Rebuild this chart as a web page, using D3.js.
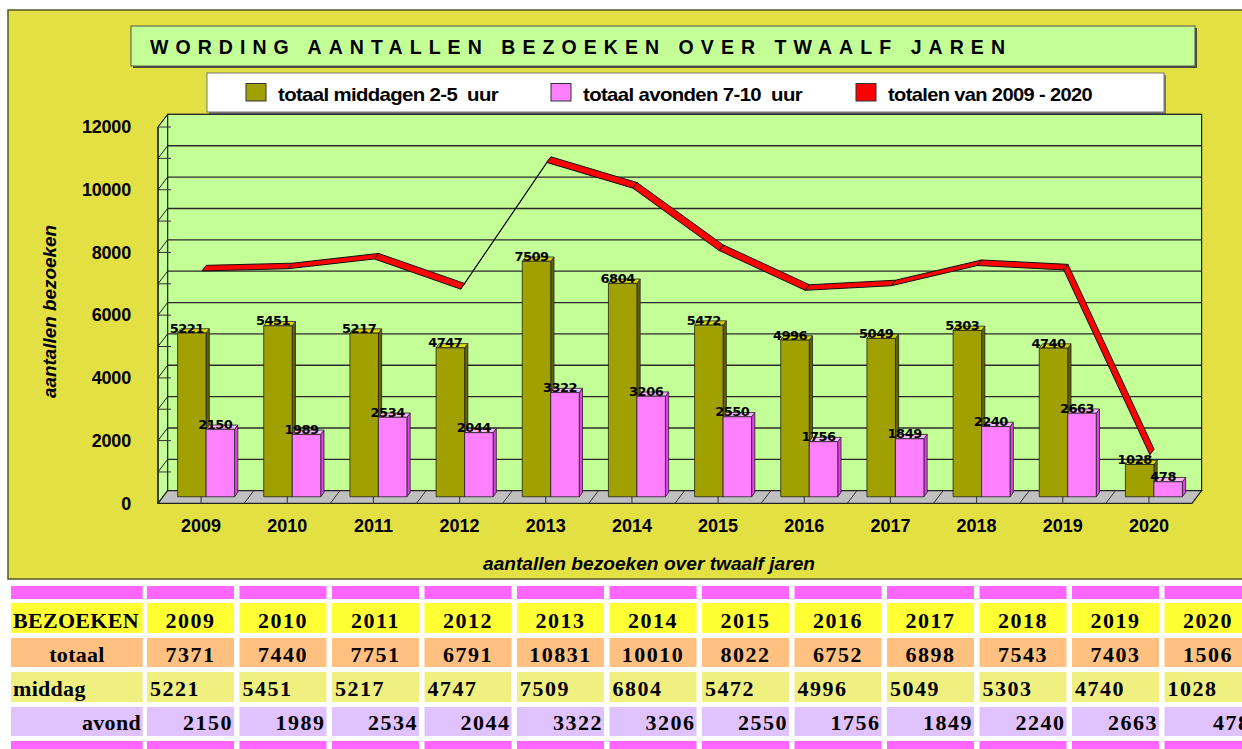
<!DOCTYPE html>
<html>
<head>
<meta charset="utf-8">
<script src="https://cdn.jsdelivr.net/npm/d3@7"></script>
<style>
  body { margin: 0; background: #fff; }
  svg { display: block; }
  .ylab text, .xlab text { font-family: "Liberation Sans", Arial, sans-serif; font-weight: bold; fill: #000; }
  .tbl text { font-family: "Liberation Serif", "DejaVu Serif", serif; font-weight: bold; font-size: 22px; letter-spacing: 1.5px; fill: #000; }
  .tbl text.rowname { letter-spacing: 0.3px; }
</style>
</head>
<body>
<div id="chart"></div>
<script>
// data
var years = ["2009", "2010", "2011", "2012", "2013", "2014", "2015", "2016", "2017", "2018", "2019", "2020"];
var middag = [5221, 5451, 5217, 4747, 7509, 6804, 5472, 4996, 5049, 5303, 4740, 1028];
var avond = [2150, 1989, 2534, 2044, 3322, 3206, 2550, 1756, 1849, 2240, 2663, 478];
var totaal = [7371, 7440, 7751, 6791, 10831, 10010, 8022, 6752, 6898, 7543, 7403, 1506];
var yTicks = [0, 2000, 4000, 6000, 8000, 10000, 12000];
var legendNames = ["totaal middagen 2-5  uur", "totaal avonden 7-10  uur", "totalen van 2009 - 2020"];
var rowNames = ["BEZOEKEN", "totaal", "middag", "avond"];
var chartTitle = "WORDING AANTALLEN BEZOEKEN OVER TWAALF JAREN";
var xTitle = "aantallen bezoeken over twaalf jaren";
var yTitle = "aantallen bezoeken";

var W = 1242, H = 749;
var yellow = "#E2E042", green = "#C4FE96";
var DX = 9.6, DY = 12.6;   // depth offset of the 3d box

var svg = d3.select("#chart").append("svg")
    .attr("width", W)
    .attr("height", H);

// outer chart panel
svg.append("rect")
    .attr("x", 8).attr("y", 10).attr("width", 1260).attr("height", 569)
    .attr("fill", yellow).attr("stroke", "#55552a").attr("stroke-width", 1.5);

// title box
svg.append("rect")
    .attr("x", 133).attr("y", 28).attr("width", 1064).attr("height", 40)
    .attr("fill", "#4a4a3a");
svg.append("rect")
    .attr("x", 131).attr("y", 26).attr("width", 1064).attr("height", 40)
    .attr("fill", green).attr("stroke", "#555").attr("stroke-width", 1);
svg.append("text")
    .attr("x", 150).attr("y", 53.5)
    .attr("textLength", 855).attr("lengthAdjust", "spacing")
    .style("font-family", "Liberation Sans, Arial, sans-serif")
    .style("font-weight", "bold").style("font-size", "19.5px")
    .text(chartTitle);

// legend
svg.append("rect")
    .attr("x", 209).attr("y", 75).attr("width", 957).attr("height", 39)
    .attr("fill", "#777");
svg.append("rect")
    .attr("x", 207).attr("y", 73).attr("width", 957).attr("height", 39)
    .attr("fill", "#fff").attr("stroke", "#777").attr("stroke-width", 1);
var legX = [246, 551, 856], legTextX = [278, 583, 888], legW = [220, 219, 204];
var legCol = ["#A0A000", "#FF80FF", "#FF0000"];
legendNames.forEach(function(name, i) {
    svg.append("rect")
        .attr("x", legX[i]).attr("y", 83.5).attr("width", 20).attr("height", 17.5)
        .attr("fill", legCol[i]).attr("stroke", "#333").attr("stroke-width", 1);
    svg.append("text")
        .attr("x", legTextX[i]).attr("y", 101)
        .attr("textLength", legW[i]).attr("lengthAdjust", "spacingAndGlyphs")
        .style("white-space", "pre")
        .style("font-family", "Liberation Sans, Arial, sans-serif")
        .style("font-weight", "bold").style("font-size", "19px")
        .style("letter-spacing", "-0.6px")
        .text(name);
});

// scales (front plane of the 3d box)
var x = d3.scaleBand().domain(years).range([158, 1192]);
var y = d3.scaleLinear().domain([0, 12000]).range([503.3, 127]);

function P(px, v, z) { return [px + z * DX, y(v) - z * DY]; }
function poly(pts) { return pts.map(function(p) { return p[0].toFixed(2) + "," + p[1].toFixed(2); }).join(" "); }

var x0 = x.range()[0], x1 = x.range()[1];
var gridVals = d3.range(0, 12001, 1000);

// back wall
var bw = svg.append("g");
bw.append("rect")
    .attr("x", x0 + DX).attr("y", y(12000) - DY)
    .attr("width", x1 - x0).attr("height", y(0) - y(12000))
    .attr("fill", green).attr("stroke", "#222").attr("stroke-width", 1.2);
bw.selectAll("line.grid").data(gridVals).enter().append("line")
    .attr("class", "grid")
    .attr("x1", x0 + DX).attr("x2", x1 + DX)
    .attr("y1", function(d) { return y(d) - DY; })
    .attr("y2", function(d) { return y(d) - DY; })
    .attr("stroke", "#2a2a2a").attr("stroke-width", 1.3);

// left wall
svg.append("polygon")
    .attr("points", poly([P(x0, 0, 0), P(x0, 12000, 0), P(x0, 12000, 1), P(x0, 0, 1)]))
    .attr("fill", green).attr("stroke", "#222").attr("stroke-width", 1);
svg.selectAll("line.lw").data(gridVals).enter().append("line")
    .attr("class", "lw")
    .attr("x1", x0).attr("y1", function(d) { return y(d); })
    .attr("x2", x0 + DX).attr("y2", function(d) { return y(d) - DY; })
    .attr("stroke", "#222").attr("stroke-width", 1);
svg.selectAll("line.tk").data(gridVals).enter().append("line")
    .attr("class", "tk")
    .attr("x1", x0).attr("x2", x0 + 13)
    .attr("y1", function(d) { return y(d); }).attr("y2", function(d) { return y(d); })
    .attr("stroke", "#333").attr("stroke-width", 1);

// floor
svg.append("polygon")
    .attr("points", poly([P(x0, 0, 0), P(x1, 0, 0), P(x1, 0, 1), P(x0, 0, 1)]))
    .attr("fill", "#C0C0C0").attr("stroke", "#222").attr("stroke-width", 1.2);
svg.selectAll("line.fl").data(years.slice(1)).enter().append("line")
    .attr("class", "fl")
    .attr("x1", function(d) { return x(d); }).attr("y1", y(0))
    .attr("x2", function(d) { return x(d) + DX; }).attr("y2", y(0) - DY)
    .attr("stroke", "#333").attr("stroke-width", 1);
svg.selectAll("line.xt").data(years).enter().append("line")
    .attr("class", "xt")
    .attr("x1", function(d) { return x(d) + x.bandwidth() / 2; })
    .attr("x2", function(d) { return x(d) + x.bandwidth() / 2; })
    .attr("y1", y(0) - 11).attr("y2", y(0))
    .attr("stroke", "#444").attr("stroke-width", 1.2);
svg.append("line")
    .attr("x1", x0).attr("x2", x0).attr("y1", y(12000)).attr("y2", y(0))
    .attr("stroke", "#111").attr("stroke-width", 1.2);

// bars
var bz0 = 0.52, bz1 = 0.86, barW = 28.5;
var series = [
    {vals: middag, off: -barW, front: "#A0A000", side: "#626200", top: "#DEDA00"},
    {vals: avond, off: 0, front: "#FF80FF", side: "#E040E8", top: "#FFB8FF"}
];
var bars = svg.append("g");
years.forEach(function(yr, i) {
    var c = x(yr) + x.bandwidth() / 2;
    series.forEach(function(s) {
        var v = s.vals[i];
        var l = c + s.off, r = l + barW;
        var fl = P(l, 0, bz0), fr = P(r, 0, bz0), tl = P(l, v, bz0), tr = P(r, v, bz0);
        var dzx = (bz1 - bz0) * DX, dzy = (bz1 - bz0) * DY;
        bars.append("polygon")
            .attr("points", poly([fr, tr, [tr[0] + dzx, tr[1] - dzy], [fr[0] + dzx, fr[1] - dzy]]))
            .attr("fill", s.side).attr("stroke", "#222").attr("stroke-width", 0.8);
        bars.append("polygon")
            .attr("points", poly([tl, tr, [tr[0] + dzx, tr[1] - dzy], [tl[0] + dzx, tl[1] - dzy]]))
            .attr("fill", s.top).attr("stroke", "#222").attr("stroke-width", 0.8);
        bars.append("polygon")
            .attr("points", poly([fl, fr, tr, tl]))
            .attr("fill", s.front).attr("stroke", "#222").attr("stroke-width", 0.8);
    });
});

// red ribbon for the totals
var rz0 = 0.1, rz1 = 0.54;
var rib = svg.append("g");
for (var i = 0; i < years.length - 1; i++) {
    var ca = x(years[i]) + x.bandwidth() / 2, cb = x(years[i + 1]) + x.bandwidth() / 2;
    rib.append("polygon")
        .attr("points", poly([P(ca, totaal[i], rz0), P(cb, totaal[i + 1], rz0), P(cb, totaal[i + 1], rz1), P(ca, totaal[i], rz1)]))
        .attr("fill", "#FF0000").attr("stroke", "#111").attr("stroke-width", 1)
        .attr("stroke-linejoin", "round");
}

// data labels
var lab = svg.append("g")
    .style("font-family", "DejaVu Sans, Verdana, sans-serif")
    .style("font-weight", "bold").style("font-size", "13px")
    .style("letter-spacing", "-0.5px").attr("text-anchor", "middle");
years.forEach(function(yr, i) {
    var c = x(yr) + x.bandwidth() / 2;
    series.forEach(function(s) {
        var v = s.vals[i];
        var p = P(c + s.off + barW / 2, v, bz0);
        lab.append("text").attr("x", p[0] - 5).attr("y", p[1] - 0.5).text(v);
    });
});

// axes
var yAxis = svg.append("g").attr("class", "ylab")
    .attr("transform", "translate(131,0)")
    .call(d3.axisLeft(y).tickValues(yTicks).tickSize(0).tickPadding(0).tickFormat(d3.format("d")));
yAxis.select(".domain").remove();
yAxis.selectAll("text").style("font-size", "18px").style("letter-spacing", "-0.2px");

var xAxis = svg.append("g").attr("class", "xlab")
    .attr("transform", "translate(0,519)")
    .call(d3.axisBottom(x).tickSize(0).tickPadding(0));
xAxis.select(".domain").remove();
xAxis.selectAll("text").style("font-size", "18px");

// axis titles
svg.append("text")
    .attr("x", 649).attr("y", 570)
    .attr("text-anchor", "middle")
    .attr("textLength", 332).attr("lengthAdjust", "spacingAndGlyphs")
    .style("font-family", "Liberation Sans, Arial, sans-serif")
    .style("font-weight", "bold").style("font-style", "italic").style("font-size", "17.5px")
    .text(xTitle);
svg.append("text")
    .attr("transform", "translate(56,311.5) rotate(-90)")
    .attr("text-anchor", "middle")
    .attr("textLength", 173).attr("lengthAdjust", "spacingAndGlyphs")
    .style("font-family", "Liberation Sans, Arial, sans-serif")
    .style("font-weight", "bold").style("font-style", "italic").style("font-size", "17.5px")
    .text(yTitle);

// table below the chart
var tbl = svg.append("g").attr("class", "tbl");
var colX = [11].concat(years.map(function(d, i) { return 147 + i * 92.5; }));
var colW = [131.7].concat(years.map(function() { return 87; }));
var rows = [
    {y: 586, h: 13, fill: "#FF66FF"},
    {y: 603, h: 30, fill: "#FFFF33"},
    {y: 638, h: 29, fill: "#FFC080"},
    {y: 672, h: 30, fill: "#F0F080"},
    {y: 707, h: 29, fill: "#E0C2FF"},
    {y: 741, h: 12, fill: "#FF66FF"}
];
rows.forEach(function(r) {
    colX.forEach(function(cx, j) {
        tbl.append("rect")
            .attr("x", cx).attr("y", r.y).attr("width", colW[j]).attr("height", r.h)
            .attr("fill", r.fill);
    });
});
var textRows = [
    {base: 628, vals: years, anchor: "middle"},
    {base: 661.5, vals: totaal, anchor: "middle"},
    {base: 696, vals: middag, anchor: "start"},
    {base: 729.5, vals: avond, anchor: "end"}
];
var nameAnchor = ["start", "middle", "start", "end"];
textRows.forEach(function(r, k) {
    var nx = nameAnchor[k] === "start" ? 13 : nameAnchor[k] === "middle" ? 77 : 141;
    tbl.append("text").attr("class", "rowname").attr("x", nx).attr("y", r.base)
        .attr("text-anchor", nameAnchor[k]).text(rowNames[k]);
    r.vals.forEach(function(v, i) {
        var cx = colX[i + 1], tx;
        if (r.anchor === "start") tx = cx + 3;
        else if (r.anchor === "middle") tx = cx + colW[i + 1] / 2;
        else tx = cx + colW[i + 1] - 1;
        tbl.append("text").attr("x", tx).attr("y", r.base)
            .attr("text-anchor", r.anchor).text(v);
    });
});
</script>
</body>
</html>
